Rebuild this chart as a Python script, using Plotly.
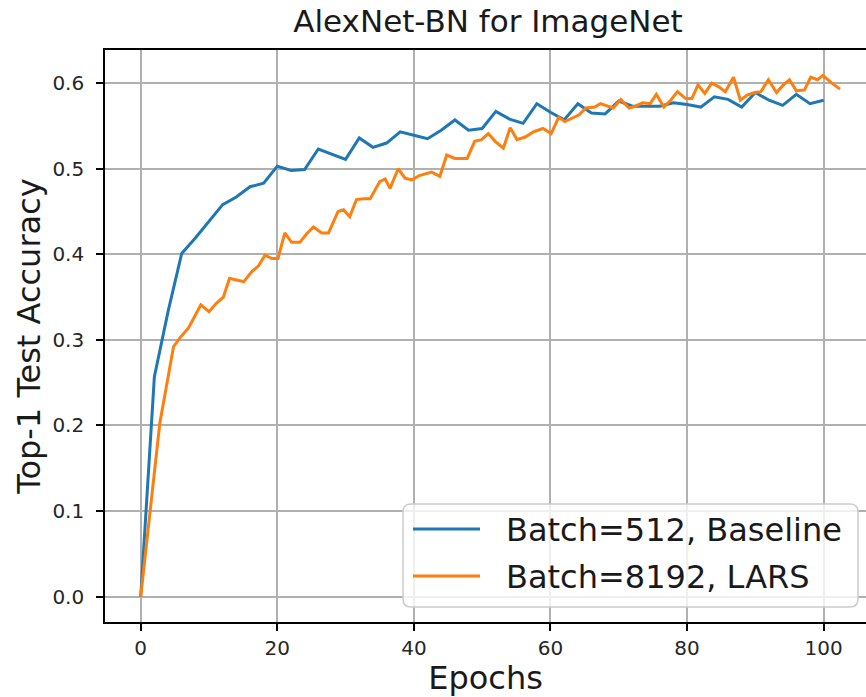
import plotly.graph_objects as go

# ---------------- data ----------------
baseline_epochs = list(range(0, 101, 2))
baseline_acc = [0.000, 0.257, 0.333, 0.401, 0.419, 0.438, 0.458, 0.467, 0.479, 0.483,
                0.503, 0.498, 0.499, 0.523, 0.517, 0.511, 0.536, 0.525, 0.530, 0.543,
                0.539, 0.535, 0.545, 0.557, 0.545, 0.547, 0.567, 0.558, 0.553, 0.576,
                0.566, 0.557, 0.576, 0.565, 0.564, 0.579, 0.573, 0.573, 0.573, 0.577,
                0.575, 0.572, 0.584, 0.581, 0.572, 0.589, 0.580, 0.574, 0.587, 0.576,
                0.580]

lars_epochs = [0, 1.6, 2.8, 4.8, 5.8, 7.0, 8.8, 10.0, 11.1, 12.1, 13.0, 14.0, 15.1, 16.3,
               17.2, 18.2, 19.2, 20.1, 21.1, 22.1, 23.3, 24.3, 25.3, 26.5, 27.5, 28.9,
               29.7, 30.6, 31.6, 32.6, 33.6, 35.0, 35.8, 36.5, 37.7, 38.7, 39.7, 40.8,
               41.7, 42.6, 43.8, 44.8, 46.0, 47.0, 47.8, 48.9, 49.9, 50.9, 51.9, 53.1,
               54.1, 55.1, 56.3, 57.5, 58.9, 60.1, 61.2, 62.1, 63.2, 64.2, 65.2, 66.5,
               67.3, 68.2, 69.2, 70.3, 71.5, 72.4, 73.5, 74.6, 75.5, 76.6, 77.6, 78.6,
               79.8, 80.7, 81.6, 82.6, 83.6, 84.6, 85.6, 86.8, 87.8, 88.8, 89.9, 90.8,
               91.9, 93.1, 94.0, 95.0, 96.0, 97.2, 98.1, 99.1, 99.9, 101.2, 102.4]
lars_acc = [0.000, 0.113, 0.203, 0.292, 0.303, 0.314, 0.341, 0.333, 0.343, 0.350, 0.372,
            0.370, 0.368, 0.380, 0.386, 0.399, 0.395, 0.395, 0.425, 0.414, 0.414, 0.424,
            0.432, 0.425, 0.425, 0.450, 0.452, 0.444, 0.464, 0.465, 0.465, 0.485, 0.488,
            0.477, 0.500, 0.489, 0.487, 0.492, 0.494, 0.496, 0.491, 0.516, 0.512, 0.512,
            0.512, 0.532, 0.534, 0.541, 0.532, 0.524, 0.548, 0.534, 0.537, 0.543, 0.547,
            0.541, 0.560, 0.555, 0.559, 0.563, 0.571, 0.572, 0.576, 0.574, 0.571, 0.581,
            0.571, 0.573, 0.577, 0.576, 0.587, 0.572, 0.580, 0.590, 0.582, 0.582, 0.598,
            0.588, 0.600, 0.596, 0.590, 0.607, 0.580, 0.586, 0.589, 0.590, 0.604, 0.589,
            0.597, 0.604, 0.591, 0.592, 0.607, 0.604, 0.609, 0.600, 0.593]

series_names = ["Batch=512, Baseline", "Batch=8192, LARS"]
series_colors = ["#1f77b4", "#ff7f0e"]
x_ticks = [0, 20, 40, 60, 80, 100]
y_ticks = [0.0, 0.1, 0.2, 0.3, 0.4, 0.5, 0.6]

title_text = "AlexNet-BN for ImageNet"
x_title = "Epochs"
y_title = "Top-1 Test Accuracy"

# ---------------- figure ----------------
W, H = 866, 697
L, R, T, B = 105, 0, 50, 75
FONT = "DejaVu Sans"

fig = go.Figure()
fig.add_trace(go.Scatter(x=baseline_epochs, y=baseline_acc, mode="lines",
                         name=series_names[0], showlegend=False,
                         line=dict(color=series_colors[0], width=3)))
fig.add_trace(go.Scatter(x=lars_epochs, y=lars_acc, mode="lines",
                         name=series_names[1], showlegend=False,
                         line=dict(color=series_colors[1], width=3)))

pw, ph = W - L - R, H - T - B


def px(x):
    return (x - L) / pw


def py(y):
    return (H - B - y) / ph


# custom legend box (matplotlib-like)
x0, x1, y0, y1, rad = 403, 858, 504, 607, 8
path = (f"M {px(x0 + rad)},{py(y0)} L {px(x1 - rad)},{py(y0)} "
        f"Q {px(x1)},{py(y0)} {px(x1)},{py(y0 + rad)} "
        f"L {px(x1)},{py(y1 - rad)} Q {px(x1)},{py(y1)} {px(x1 - rad)},{py(y1)} "
        f"L {px(x0 + rad)},{py(y1)} Q {px(x0)},{py(y1)} {px(x0)},{py(y1 - rad)} "
        f"L {px(x0)},{py(y0 + rad)} Q {px(x0)},{py(y0)} {px(x0 + rad)},{py(y0)} Z")
shapes = [dict(type="path", path=path, xref="paper", yref="paper",
               fillcolor="rgba(255,255,255,0.8)", line=dict(color="#cccccc", width=1.5),
               layer="above")]
annotations = []
for i, (name, col) in enumerate(zip(series_names, series_colors)):
    yy = 529 + i * 47
    shapes.append(dict(type="line", xref="paper", yref="paper",
                       x0=px(413), x1=px(480), y0=py(yy), y1=py(yy),
                       line=dict(color=col, width=3), layer="above"))
    annotations.append(dict(text=name, xref="paper", yref="paper", x=px(504), y=py(yy + 1),
                            xanchor="left", yanchor="middle", showarrow=False,
                            font=dict(family=FONT, size=32, color="#1a1a1a")))

fig.update_layout(
    width=W, height=H, autosize=False,
    margin=dict(l=L, r=R, t=T, b=B, pad=0),
    paper_bgcolor="white", plot_bgcolor="white",
    font=dict(family=FONT, color="#1a1a1a"),
    title=dict(text=title_text, x=px(488), xref="paper", xanchor="center",
               y=1 - 21 / H, yref="container", yanchor="middle",
               font=dict(family=FONT, size=31, color="#1a1a1a"), automargin=False),
    shapes=shapes, annotations=annotations,
)
fig.update_xaxes(range=[-5.23, 106.2], tickvals=x_ticks, ticktext=[str(v) for v in x_ticks],
                 automargin=False,
                 showgrid=True, gridcolor="#b0b0b0", gridwidth=1.6,
                 showline=True, linecolor="black", linewidth=1.6, mirror=True,
                 ticks="outside", ticklen=7, tickwidth=1.6, tickcolor="black",
                 tickfont=dict(family=FONT, size=20, color="#262626"),
                 zeroline=False,
                 title=dict(text=x_title, font=dict(family=FONT, size=32, color="#1a1a1a"),
                            standoff=7))
fig.update_yaxes(range=[-0.0296, 0.6387], tickvals=y_ticks,
                 ticktext=[f"{v:.1f}" for v in y_ticks],
                 automargin=False, ticklabelstandoff=8,
                 showgrid=True, gridcolor="#b0b0b0", gridwidth=1.6,
                 showline=True, linecolor="black", linewidth=1.6, mirror=False,
                 ticks="outside", ticklen=7, tickwidth=1.6, tickcolor="black",
                 tickfont=dict(family=FONT, size=20, color="#262626"),
                 zeroline=False,
                 title=dict(text=y_title, font=dict(family=FONT, size=32, color="#1a1a1a"),
                            standoff=2))

fig.write_html("out.html", config={"displayModeBar": False},
               post_script="document.body.style.margin='0px';document.body.style.padding='0px';")
